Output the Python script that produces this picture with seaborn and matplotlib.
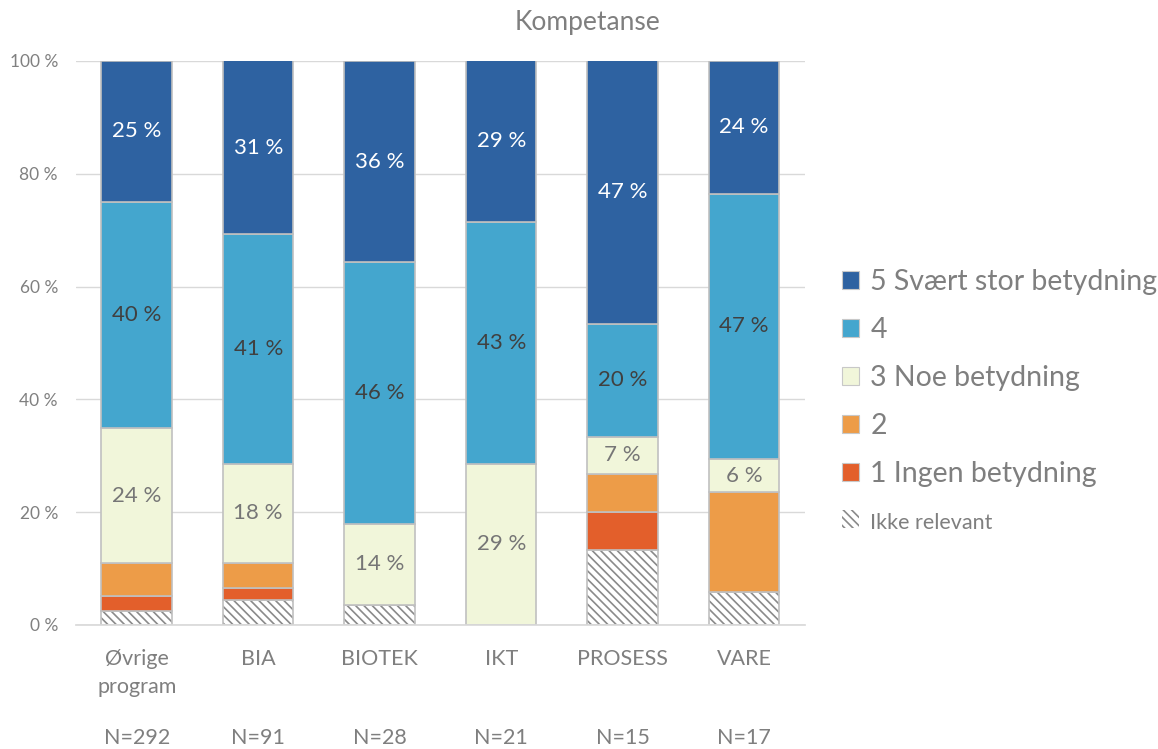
import matplotlib
matplotlib.use("Agg")
import matplotlib.pyplot as plt
import matplotlib.transforms as mtransforms
from matplotlib.patches import Patch
import numpy as np
import seaborn as sns

# --- DATA (prosent, lest av figuren) ---
categories = ["Øvrige\nprogram", "BIA", "BIOTEK", "IKT", "PROSESS", "VARE"]
n_labels = ["N=292", "N=91", "N=28", "N=21", "N=15", "N=17"]

ikke_relevant = [2.4, 4.4, 3.6, 0.0, 13.3, 5.9]
ingen = [2.7, 2.2, 0.0, 0.0, 6.7, 0.0]
to = [5.8, 4.4, 0.0, 0.0, 6.7, 17.6]
noe = [24.0, 17.6, 14.3, 28.6, 6.7, 5.9]
fire = [40.1, 40.7, 46.4, 42.9, 20.0, 47.1]
svaert = [25.0, 30.8, 35.7, 28.6, 46.7, 23.5]

series_names = ["Ikke relevant", "1 Ingen betydning", "2", "3 Noe betydning", "4",
                "5 Svært stor betydning"]
series_colors = ["white", "#E35F2B", "#ED9C48", "#F1F6DA", "#44A6CE", "#2E62A1"]
label_colors = [None, None, None, "#767676", "#404040", "white"]

# --- STIL ---
sns.set_theme(style="white")
plt.rcParams["font.family"] = ["Lato", "DejaVu Sans"]
plt.rcParams["hatch.color"] = "#8a8a8a"
plt.rcParams["hatch.linewidth"] = 1.2

fig = plt.figure(figsize=(11.58, 7.49), dpi=100)
ax = fig.add_axes([0.0656, 0.1656, 0.6295, 0.753])

all_series = [ikke_relevant, ingen, to, noe, fire, svaert]
bottom = np.zeros(len(categories))
bar_w = 0.58

for i, vals in enumerate(all_series):
    vals = np.array(vals)
    if i == 0:
        # hatched segment: hatch drawn with edgecolor, then separate light outline
        sns.barplot(x=categories, y=vals, bottom=bottom, color="white", width=bar_w,
                    errorbar=None, ax=ax, hatch="\\\\\\\\", edgecolor="#8a8a8a",
                    linewidth=0, saturation=1)
        sns.barplot(x=categories, y=vals, bottom=bottom, color="white", width=bar_w,
                    errorbar=None, ax=ax, fill=False, edgecolor="#c0c0c0",
                    linewidth=1.2)
    else:
        sns.barplot(x=categories, y=vals, bottom=bottom, color=series_colors[i],
                    width=bar_w, errorbar=None, ax=ax, edgecolor="#c0c0c0",
                    linewidth=1.2, saturation=1)
        if label_colors[i] is not None:
            labels = [f"{v:.0f} %" if v > 0 else "" for v in vals]
            ax.bar_label(ax.containers[-1], labels=labels, label_type="center",
                         color=label_colors[i], fontsize=16)
    bottom = bottom + vals

ax.set_ylim(0, 100)
ax.set_xlim(-0.5, len(categories) - 0.5)
ax.set_yticks([0, 20, 40, 60, 80, 100])
ax.set_yticklabels([f"{t} %" for t in [0, 20, 40, 60, 80, 100]])
ax.yaxis.grid(True, color="#d9d9d9", linewidth=1)
ax.set_axisbelow(True)
for side in ["top", "right", "left"]:
    ax.spines[side].set_visible(False)
ax.spines["bottom"].set_color("#d9d9d9")
ax.tick_params(axis="y", length=0, pad=13, labelsize=12.5, labelcolor="#808080")
ax.tick_params(axis="x", length=0, pad=17, labelsize=15.5, labelcolor="#7f7f7f")
for lbl in ax.get_xticklabels():
    lbl.set_linespacing(1.55)
ax.set_xlabel("")
ax.set_ylabel("")

trans = mtransforms.blended_transform_factory(ax.transData, ax.transAxes)
for i, n in enumerate(n_labels):
    ax.text(i, -0.2, n, transform=trans, ha="center", va="center",
            fontsize=15.5, color="#7f7f7f")

fig.text(0.507, 0.97, "Kompetanse", ha="center", va="center", fontsize=19,
         color="#7f7f7f")

# Legend (rekkefølge ovenfra)
handles = []
for i in range(len(series_names) - 1, -1, -1):
    if i == 0:
        handles.append(Patch(facecolor="white", edgecolor="#8a8a8a", hatch="\\\\\\\\",
                             linewidth=0, label=series_names[i]))
    else:
        handles.append(Patch(facecolor=series_colors[i], edgecolor="#c8c8c8",
                             linewidth=0.8, label=series_names[i]))
leg = fig.legend(handles=handles, loc="center left", bbox_to_anchor=(0.705, 0.465),
                 frameon=False, fontsize=20.5, handlelength=0.6, handleheight=0.6,
                 handletextpad=0.4, labelspacing=0.78, labelcolor="#7f7f7f")
leg.get_texts()[-1].set_fontsize(15.5)

fig.savefig("out.png", dpi=100)
